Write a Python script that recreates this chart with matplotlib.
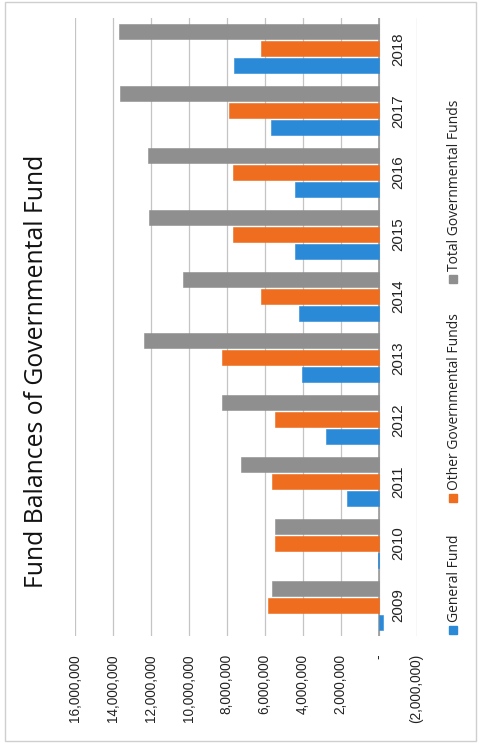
import matplotlib

matplotlib.use("Agg")
import matplotlib.pyplot as plt
import numpy as np
from matplotlib.patches import Rectangle

YEARS = ["2009", "2010", "2011", "2012", "2013", "2014", "2015", "2016", "2017", "2018"]
GENERAL = [-260_000, 40_000, 1_680_000, 2_740_000, 4_030_000, 4_160_000, 4_380_000, 4_420_000, 5_680_000, 7_580_000]
OTHER = [5_790_000, 5_470_000, 5_580_000, 5_470_000, 8_240_000, 6_160_000, 7_640_000, 7_680_000, 7_890_000, 6_160_000]
TOTAL = [5_580_000, 5_470_000, 7_260_000, 8_260_000, 12_340_000, 10_300_000, 12_100_000, 12_120_000, 13_580_000, 13_680_000]
TICKS = list(range(-2_000_000, 16_000_001, 2_000_000))

SERIES = [
    ("General Fund", GENERAL, "#2b8ad8"),
    ("Other Governmental Funds", OTHER, "#ee6d1e"),
    ("Total Governmental Funds", TOTAL, "#8f8f8f"),
]


def money(v):
    if v == 0:
        return "-"
    if v < 0:
        return f"({-v:,})"
    return f"{v:,}"


W, H = 482, 750
fig = plt.figure(figsize=(W / 100, H / 100), dpi=100)
fig.patch.set_facecolor("white")

# chart is laid out sideways: values run right-to-left, years bottom-to-top
ax = fig.add_axes([74.5 / W, 114 / H, 342 / W, 618 / H])
y = np.arange(len(YEARS))
step, thick = 0.275, 0.243
for k, (name, vals, color) in enumerate(SERIES):
    ax.barh(y + (k - 1) * step, vals, height=thick, color=color,
            edgecolor=color, linewidth=0.4, zorder=3)

ax.set_xlim(16_000_000, -2_000_000)
ax.set_ylim(-0.5, len(YEARS) - 0.5)
ax.set_xticks(TICKS)
ax.set_xticklabels([money(t) for t in TICKS], rotation=90, va="top", ha="center",
                   fontsize=9.8, family="Liberation Sans", color="#222222")
ax.tick_params(axis="x", length=0, pad=13)
ax.set_yticks([])
for s in ax.spines.values():
    s.set_visible(False)
ax.grid(axis="x", color="#c4c4c4", linewidth=0.9, zorder=0)
ax.axvline(0, color="#9a9a9a", linewidth=1.2, zorder=2)

for i, yr in enumerate(YEARS):
    ax.text(-1_050_000, i, yr, rotation=90, ha="center", va="center",
            fontsize=10.8, family="Liberation Sans", color="#222222")

fig.text(37 / W, 1 - 371 / H, "Fund Balances of Governmental Fund", rotation=90,
         ha="center", va="center", fontsize=17.8, family="Open Sans", color="#111111")

# legend entries, stacked along the right edge
legend_pos = [(630, 622), (498, 490), (279, 271)]
for (name, _, color), (my, ty) in zip(SERIES, legend_pos):
    fig.patches.append(Rectangle((449 / W, 1 - (my + 4) / H), 8 / W, 8 / H,
                                 transform=fig.transFigure, color=color))
    fig.text(454 / W, 1 - ty / H, name, rotation=90, ha="center", va="bottom",
             fontsize=10, family="Open Sans", color="#222222")

fig.patches.append(Rectangle((5 / W, 9 / H), 471 / W, 739 / H, transform=fig.transFigure,
                             fill=False, edgecolor="#cfcfcf", linewidth=1))

fig.savefig("out.png", dpi=100)
